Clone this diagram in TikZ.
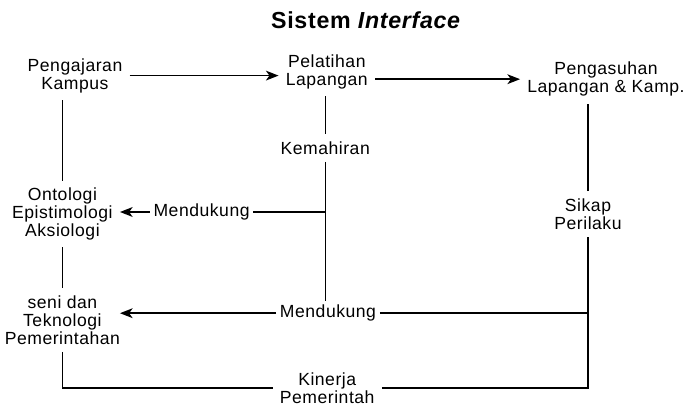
\documentclass[tikz,border=0pt]{standalone}
\usepackage{fontspec}
\setmainfont[LetterSpace=3]{Liberation Sans}
\usetikzlibrary{arrows.meta,positioning,calc}

\begin{document}
\begin{tikzpicture}[
  box/.style={align=center, font=\fontsize{12.5}{12.8}\selectfont, inner sep=5pt},
  word/.style={box, inner sep=2.5pt},
  link/.style={line width=1pt},
  arr/.style={link, -{Stealth[length=9pt, width=7pt, inset=2.5pt]}},
]
  \useasboundingbox (0,0) rectangle (17.175,-10.2);
  % Title
  \node[font=\fontsize{16.5}{19}\selectfont\bfseries] (title) at (9.15,-0.5)
    {Sistem \textit{Interface}};
  % Top row
  \node[box] (ajar) at (1.875,-1.89) {Pengajaran\\Kampus};
  \node[box] (latih) at (8.17,-1.79) {Pelatihan\\Lapangan};
  \node[box] (asuh) at (15.15,-1.98) {Pengasuhan\\Lapangan \& Kamp.};
  % Middle row
  \node[box] (mahir) at (8.13,-3.7) {Kemahiran};
  \node[box] (onto) at (1.56,-5.35) {Ontologi\\Epistimologi\\Aksiologi};
  \node[word] (dukung1) at (5.04,-5.3) {Mendukung};
  \node[box] (sikap) at (14.7,-5.35) {Sikap\\Perilaku};
  % Bottom rows
  \node[box] (seni) at (1.56,-8.0) {seni dan\\Teknologi\\Pemerintahan};
  \node[word] (dukung2) at (8.2,-7.83) {Mendukung};
  \node[box, inner ysep=2pt] (kinerja) at (8.18,-9.7) {Kinerja\\Pemerintah};

  % Arrows along the top
  \draw[arr] (ajar.east) -- (ajar.east -| latih.west);
  \draw[arr] (latih.east |- asuh.west) -- (asuh.west);
  % Left column and the loop at the bottom
  \draw[link] (onto.north) -- (onto.north |- ajar.south);
  \draw[link] (onto.south) -- (seni.north);
  \draw[link] (seni.south) |- (kinerja.west);
  \draw[link] (kinerja.east) -| (sikap.south);
  \draw[link] (sikap.north) -- (sikap.north |- asuh.south);
  % Middle column
  \draw[link] (latih.south -| mahir.north) -- (mahir.north);
  \draw[link] (mahir.south) -- (mahir.south |- dukung2.north);
  % Support arrows to the left
  \draw[link] (dukung1.east) -- (dukung1.east -| mahir.south);
  \draw[arr] (dukung1.west) -- (dukung1.west -| onto.east);
  \draw[link] (dukung2.east) -- (dukung2.east -| sikap.south);
  \draw[arr] (dukung2.west) -- (dukung2.west -| onto.east);
\end{tikzpicture}
\end{document}
